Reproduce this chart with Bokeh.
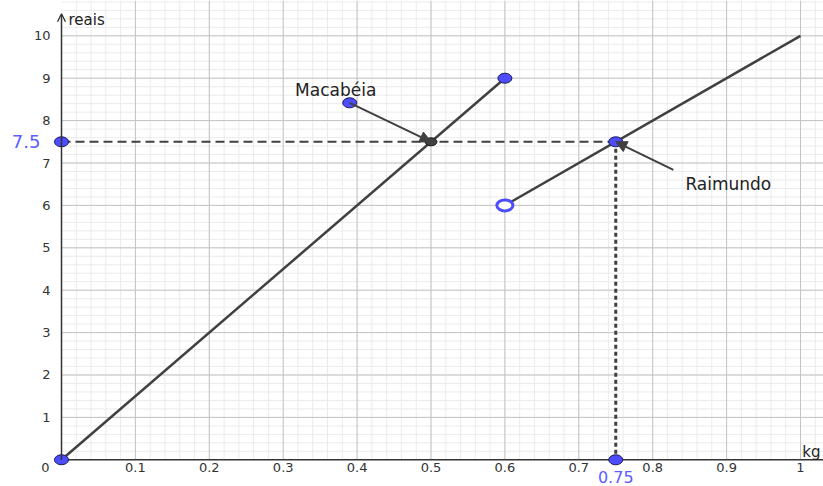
import numpy as np
from bokeh.plotting import figure
from bokeh.models import Arrow, NormalHead, OpenHead
from bokeh.core.properties import value
from bokeh.embed import file_html
from bokeh.resources import INLINE

# --- data ---------------------------------------------------------------
macabeia_kg = [0.0, 0.6]
macabeia_reais = [0.0, 9.0]
raimundo_kg = [0.6, 1.0]
raimundo_reais = [6.0, 10.0]
meet_kg, meet_reais = 0.5, 7.5          # where the two price lines cross
target_kg, target_reais = 0.75, 7.5     # Raimundo's point at 7.5 reais
mac_label_pt = (0.39, 8.42)
rai_label_pt = (0.828, 6.84)

x_ticks = [0.1, 0.2, 0.3, 0.4, 0.5, 0.6, 0.7, 0.8, 0.9, 1.0]
x_tick_labels = ["0.1", "0.2", "0.3", "0.4", "0.5", "0.6", "0.7", "0.8", "0.9", "1"]
y_ticks = [1, 2, 3, 4, 5, 6, 7, 8, 9, 10]
y_tick_labels = ["1", "2", "3", "4", "5", "6", "7", "8", "9", "10"]

X0, X1 = -0.08254, 1.03112
Y0, Y1 = -0.630, 10.833

FONT = value("DejaVu Sans")
LINE = "#404040"
BLUE = "#4d4dff"
BLUE_TXT = "#5c5cff"

p = figure(width=823, height=486, x_range=(X0, X1), y_range=(Y0, Y1),
           x_axis_type=None, y_axis_type=None, toolbar_location=None,
           output_backend="svg", min_border=0)
p.outline_line_color = None
p.background_fill_color = "white"

# --- grid, first quadrant only -------------------------------------------
minor_x = np.arange(0.02, X1, 0.02)
minor_y = np.arange(0.2, Y1, 0.2)
p.segment(x0=minor_x, y0=0, x1=minor_x, y1=Y1, line_color="#ebebeb", line_width=1)
p.segment(x0=0, y0=minor_y, x1=X1, y1=minor_y, line_color="#ebebeb", line_width=1)
major_x = np.arange(0.1, X1, 0.1)
major_y = np.arange(1, Y1, 1.0)
p.segment(x0=major_x, y0=0, x1=major_x, y1=Y1, line_color="#c4c4c4", line_width=1)
p.segment(x0=0, y0=major_y, x1=X1, y1=major_y, line_color="#c4c4c4", line_width=1)

# --- axes -----------------------------------------------------------------
p.segment(x0=[0], y0=[0], x1=[X1], y1=[0], line_color="#333333", line_width=1.5)
p.add_layout(Arrow(end=OpenHead(size=8, line_color="#333333", line_width=1.3),
                   x_start=0, y_start=0, x_end=0, y_end=10.52,
                   line_color="#333333", line_width=1.5))

p.text(x=x_ticks, y=[0] * len(x_ticks), text=x_tick_labels, text_font=FONT,
       text_font_size="13px", text_color="#333333", text_align="center",
       text_baseline="middle", y_offset=8)
p.text(x=[0] * len(y_ticks), y=y_ticks, text=y_tick_labels, text_font=FONT,
       text_font_size="13px", text_color="#333333", text_align="right",
       text_baseline="middle", x_offset=-11)
p.text(x=[0], y=[0], text=["0"], text_font=FONT, text_font_size="13px",
       text_color="#333333", text_align="center", text_baseline="middle",
       x_offset=-16, y_offset=8)
p.text(x=[0], y=[10.52], text=["reais"], text_font=FONT, text_font_size="15px",
       text_color="#222222", text_align="left", text_baseline="middle",
       x_offset=7, y_offset=6)
p.text(x=[X1], y=[0], text=["kg"], text_font=FONT, text_font_size="15px",
       text_color="#222222", text_align="right", text_baseline="middle",
       x_offset=-3, y_offset=-8)

# --- guide lines to 7.5 reais and 0.75 kg --------------------------------
p.line([0, target_kg], [target_reais, target_reais], line_color=LINE,
       line_width=2, line_dash="9 5")
p.line([target_kg, target_kg], [target_reais, 0], line_color=LINE,
       line_width=3, line_dash="4 3")

# --- price lines ------------------------------------------------------------
p.line(macabeia_kg, macabeia_reais, line_color=LINE, line_width=2.5)
p.line(raimundo_kg, raimundo_reais, line_color=LINE, line_width=2.5)

# --- label arrows -----------------------------------------------------------
p.add_layout(Arrow(end=NormalHead(size=11, fill_color=LINE, line_color=LINE),
                   x_start=mac_label_pt[0], y_start=mac_label_pt[1],
                   x_end=meet_kg, y_end=meet_reais, line_color=LINE, line_width=2))
p.add_layout(Arrow(end=NormalHead(size=11, fill_color=LINE, line_color=LINE),
                   x_start=rai_label_pt[0], y_start=rai_label_pt[1],
                   x_end=target_kg, y_end=target_reais, line_color=LINE, line_width=2))

# --- points -----------------------------------------------------------------
pts_x = [macabeia_kg[0], macabeia_kg[1], target_kg, 0, target_kg, mac_label_pt[0]]
pts_y = [macabeia_reais[0], macabeia_reais[1], target_reais, target_reais, 0, mac_label_pt[1]]
p.ellipse(x=pts_x, y=pts_y, width=14, height=10, width_units="screen",
          height_units="screen", fill_color=BLUE, line_color="#1a1a55", line_width=1)
p.ellipse(x=[meet_kg], y=[meet_reais], width=12, height=8, width_units="screen",
          height_units="screen", fill_color=LINE, line_color="#1a1a1a", line_width=1)
p.ellipse(x=[raimundo_kg[0]], y=[raimundo_reais[0]], width=16, height=11,
          width_units="screen", height_units="screen", fill_color="white",
          line_color=BLUE, line_width=3)

# --- labels -----------------------------------------------------------------
p.text(x=[mac_label_pt[0]], y=[mac_label_pt[1]], text=["Macabéia"], text_font=FONT,
       text_font_size="17px", text_color="#222222", text_align="center",
       text_baseline="middle", x_offset=-14, y_offset=-13)
p.text(x=[rai_label_pt[0]], y=[rai_label_pt[1]], text=["Raimundo"], text_font=FONT,
       text_font_size="17px", text_color="#222222", text_align="left",
       text_baseline="middle", x_offset=12, y_offset=14)
p.text(x=[0], y=[target_reais], text=["7.5"], text_font=FONT,
       text_font_size="18px", text_color=BLUE_TXT, text_align="right",
       text_baseline="middle", x_offset=-21)
p.text(x=[target_kg], y=[0], text=["0.75"], text_font=FONT,
       text_font_size="16px", text_color=BLUE_TXT, text_align="center",
       text_baseline="middle", y_offset=17)

open("out.html", "w").write(file_html(p, INLINE))
